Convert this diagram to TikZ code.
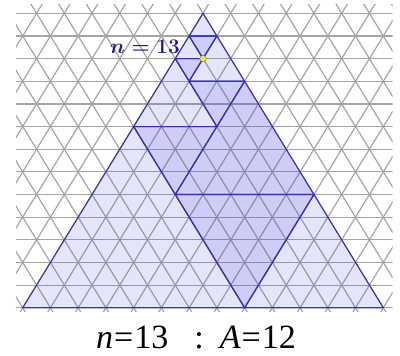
\documentclass[tikz,border=0pt]{standalone}
\usepackage{amsmath}
\usepackage{fontspec}
\newfontfamily\capfont{Liberation Serif}
\usetikzlibrary{positioning}
\definecolor{gridgray}{RGB}{165,165,165}
\definecolor{edgeblue}{RGB}{52,52,182}
\definecolor{tintblue}{RGB}{70,70,220}
\definecolor{labelblue}{RGB}{28,28,140}
\definecolor{pointyellow}{RGB}{235,235,60}
\newcommand\nlabfont{\fontsize{21}{21}\selectfont\boldmath}
\newcommand\capsize{\capfont\fontsize{34}{34}\selectfont}

\begin{document}
\begin{tikzpicture}[x=1pt,y=-1pt,
  lattice/.style={shift={(203pt,-13.3pt)},x={(27.74pt,0pt)},y={(-13.87pt,-22.65pt)}},
  gridline/.style={draw=gridgray,line width=1.2pt},
  lightfill/.style={fill=tintblue,fill opacity=0.14},
  darkfill/.style={fill=tintblue,fill opacity=0.15},
  piece/.style={draw=edgeblue,line width=1.1pt,line join=round},
  ydot/.style={circle,fill=pointyellow,draw=black!55,line width=0.4pt,inner sep=0pt,minimum size=6.5pt}]
  \useasboundingbox (0,0) rectangle (400,356);
  % background lattice
  \begin{scope}
    \clip (16,4) rectangle (392.7,311.7);
    \begin{scope}[lattice]
      \foreach \r in {0,...,13} \draw[gridline] (-12,\r) -- (26,\r);
      \foreach \s in {-9,...,15} \draw[gridline] (\s,-1) -- (\s,15);
      \foreach \s in {-15,...,9} \draw[gridline] ({\s-1},-1) -- ({\s+15},15);
    \end{scope}
  \end{scope}
  \begin{scope}[lattice]
    \coordinate (t) at (0,0);
    \coordinate (p10) at (0,1);  \coordinate (p11) at (1,1);
    \coordinate (p20) at (0,2);  \coordinate (p21) at (1,2);
    \coordinate (p31) at (1,3);  \coordinate (p33) at (3,3);
    \coordinate (p50) at (0,5);  \coordinate (p53) at (3,5);
    \coordinate (p83) at (3,8);  \coordinate (p88) at (8,8);
    \coordinate (q0) at (0,13);  \coordinate (q8) at (8,13);  \coordinate (q13) at (13,13);
    \fill[lightfill] (t) -- (q0) -- (q13) -- cycle;
    \foreach \u/\v/\w in {p10/p11/p21,p20/p21/p31,p31/p33/p53,p50/p53/p83,p83/p88/q8,p33/p83/p88}
      \fill[darkfill] (\u) -- (\v) -- (\w) -- cycle;
    \foreach \u/\v/\w in {t/p10/p11,p10/p20/p21,p11/p31/p33,p20/p50/p53,p50/q0/q8,p88/q8/q13,
                          p10/p11/p21,p20/p21/p31,p31/p33/p53,p50/p53/p83,p83/p88/q8,p33/p83/p88}
      \draw[piece] (\u) -- (\v) -- (\w) -- cycle;
    \node[ydot] (yp) at (p21) {};
  \end{scope}
  \node[text=labelblue,font=\nlabfont] (nlab) at (145,47) {$n=13$};
  \node[font=\capsize,anchor=base,inner sep=0pt] (cap) at (196,348.7)
    {\textit{n}\kern1pt=\kern1pt13\hspace{26pt}:\hspace{16pt}\textit{A}\kern1pt=\kern1pt12};
\end{tikzpicture}
\end{document}
